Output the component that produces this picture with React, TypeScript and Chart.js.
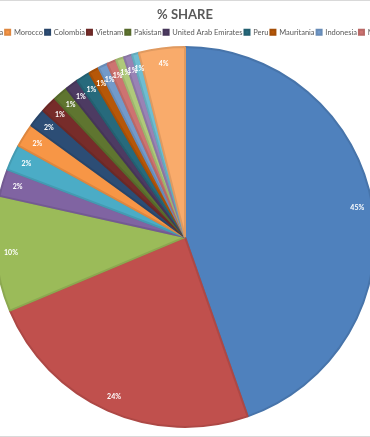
import React, { useEffect, useRef } from "react";
import { Chart, registerables } from "chart.js";

Chart.register(...registerables);

const categories: string[] = [
  "China", "India", "Thailand", "USA", "Malaysia",
  "Morocco", "Colombia", "Vietnam", "Pakistan", "United Arab Emirates",
  "Peru", "Mauritania", "Indonesia", "Mexico", "Brazil", "Chile", "Argentina", "Others",
];

const shares: number[] = [
  44.6, 24.0, 9.8, 2.3, 2.2,
  2.0, 1.6, 1.4, 1.3, 1.1,
  1.2, 0.9, 0.8, 0.8, 0.7, 0.7, 0.6, 3.9,
];

const colors: string[] = [
  "#4F81BD", "#C0504D", "#9BBB59", "#8064A2", "#4BACC6",
  "#F79646", "#2C4D75", "#772C2A", "#5F7530", "#4D3B62",
  "#276A7C", "#B65708", "#729ACA", "#CD7371", "#AFC97A",
  "#9983B5", "#6FBDD1", "#F9AB6B",
];

const chartTitle = "% SHARE";

function darken(hex: string, f: number): string {
  const n = parseInt(hex.slice(1), 16);
  const r = Math.round(((n >> 16) & 255) * f);
  const g = Math.round(((n >> 8) & 255) * f);
  const b = Math.round((n & 255) * f);
  return `rgb(${r},${g},${b})`;
}

const FONT = "Lato, 'Liberation Sans', sans-serif";

const labelPlugin = {
  id: "pctLabels",
  afterDatasetsDraw(chart: any) {
    const ctx = chart.ctx;
    const meta = chart.getDatasetMeta(0);
    const data = chart.data.datasets[0].data as number[];
    const total = data.reduce((a, b) => a + b, 0);
    ctx.save();
    ctx.fillStyle = "#ffffff";
    ctx.font = `bold 7px ${FONT}`;
    ctx.textAlign = "center";
    ctx.textBaseline = "middle";
    meta.data.forEach((arc: any, i: number) => {
      const p = arc.getProps(["x", "y", "startAngle", "endAngle", "outerRadius"], true);
      const mid = (p.startAngle + p.endAngle) / 2;
      const r = p.outerRadius * 0.92;
      ctx.fillText(
        Math.round((data[i] / total) * 100) + "%",
        p.x + Math.cos(mid) * r,
        p.y + Math.sin(mid) * r
      );
    });
    ctx.restore();
  },
};

export default function App() {
  const ref = useRef<HTMLCanvasElement | null>(null);

  useEffect(() => {
    if (!ref.current) return;
    const chart = new Chart(ref.current, {
      type: "pie",
      data: {
        labels: categories,
        datasets: [
          {
            data: shares,
            backgroundColor: colors,
            borderColor: colors.map((c) => darken(c, 0.9)),
            borderWidth: 2,
          },
        ],
      },
      options: {
        responsive: false,
        animation: false,
        layout: { padding: { top: 0, bottom: 9, left: 0, right: 0 } },
        plugins: {
          title: {
            display: true,
            text: chartTitle,
            color: "#595959",
            font: { family: FONT, size: 13, weight: "bold" },
            padding: { top: 7, bottom: 4 },
          },
          legend: {
            display: true,
            position: "top",
            labels: {
              color: "#595959",
              font: { family: FONT, size: 7.5 },
              boxWidth: 5,
              boxHeight: 5,
              padding: 2,
            },
          },
          tooltip: { enabled: false },
        },
      },
      plugins: [labelPlugin],
    });
    return () => chart.destroy();
  }, []);

  return (
    <div
      style={{
        position: "fixed",
        left: 0,
        top: 0,
        width: 370,
        height: 437,
        overflow: "hidden",
        background: "#ffffff",
        boxSizing: "border-box",
        borderTop: "1px solid #d9d9d9",
        borderBottom: "1px solid #d9d9d9",
      }}
    >
      <div style={{ position: "absolute", left: 185 - 500, top: -1, width: 1000, height: 437 }}>
        <canvas ref={ref} width={1000} height={437} style={{ width: 1000, height: 437 }} />
      </div>
    </div>
  );
}
